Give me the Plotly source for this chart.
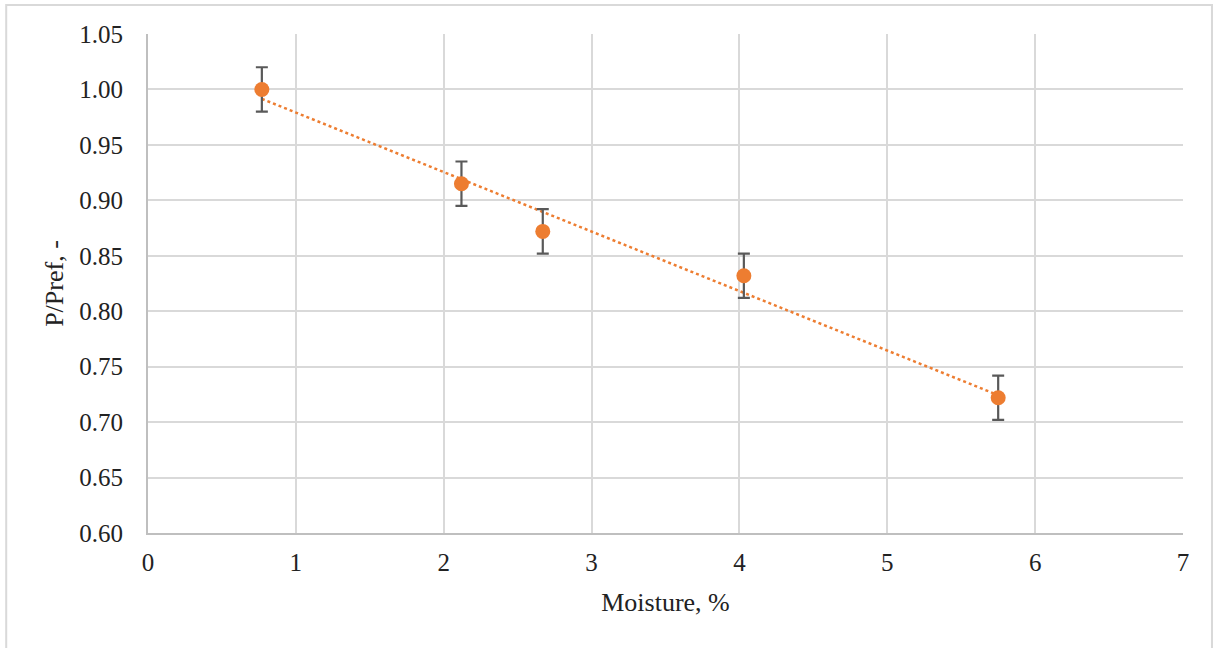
import numpy as np
import plotly.graph_objects as go

moisture = [0.77, 2.12, 2.67, 4.03, 5.75]
p_ratio = [1.000, 0.915, 0.872, 0.832, 0.722]
p_err = [0.02, 0.02, 0.02, 0.02, 0.02]

x_ticks = [0, 1, 2, 3, 4, 5, 6, 7]
y_ticks = [0.60, 0.65, 0.70, 0.75, 0.80, 0.85, 0.90, 0.95, 1.00, 1.05]

slope, intercept = np.polyfit(moisture, p_ratio, 1)
tx = [min(moisture), max(moisture)]
ty = [slope * v + intercept for v in tx]

fig = go.Figure()
fig.add_trace(go.Scatter(
    x=tx, y=ty, mode="lines",
    line=dict(color="#ED7D31", width=2.5, dash="dot"),
    showlegend=False, hoverinfo="skip"))
fig.add_trace(go.Scatter(
    x=moisture, y=p_ratio, mode="markers",
    marker=dict(color="#ED7D31", size=15),
    error_y=dict(type="data", array=p_err, visible=True,
                 color="#595959", thickness=2.2, width=6),
    showlegend=False))

fam = "Liberation Serif, Times New Roman, serif"
tick_font = dict(family=fam, size=25, color="#222222")
title_font = dict(family=fam, size=26, color="#222222")
fig.update_layout(
    width=1215, height=648,
    margin=dict(l=148, r=32, t=34, b=115),
    paper_bgcolor="white", plot_bgcolor="white",
    font=tick_font,
    xaxis=dict(range=[0, 7], tickvals=x_ticks, ticktext=[str(v) for v in x_ticks],
               tickfont=tick_font,
               showgrid=True, gridcolor="#D9D9D9", gridwidth=2,
               zeroline=False, showline=True, linecolor="#BFBFBF", linewidth=2,
               ticks="", ticklabelstandoff=6,
               title=dict(text="Moisture, %", font=title_font, standoff=18)),
    yaxis=dict(range=[0.60, 1.05], tickvals=y_ticks, ticktext=[f"{v:.2f}" for v in y_ticks],
               tickfont=tick_font,
               showgrid=True, gridcolor="#D9D9D9", gridwidth=2,
               zeroline=False, showline=True, linecolor="#BFBFBF", linewidth=2,
               ticks="", ticklabelstandoff=18,
               title=dict(text="P/Pref, -", font=title_font, standoff=8)),
    shapes=[dict(type="rect", xref="paper", yref="paper",
                 x0=-0.137, x1=1.028, y0=-0.26, y1=1.058,
                 line=dict(color="#D9D9D9", width=2), layer="below")],
)
fig.write_html("out.html", config={"displayModeBar": False},
               post_script="document.body.style.margin='0';")
